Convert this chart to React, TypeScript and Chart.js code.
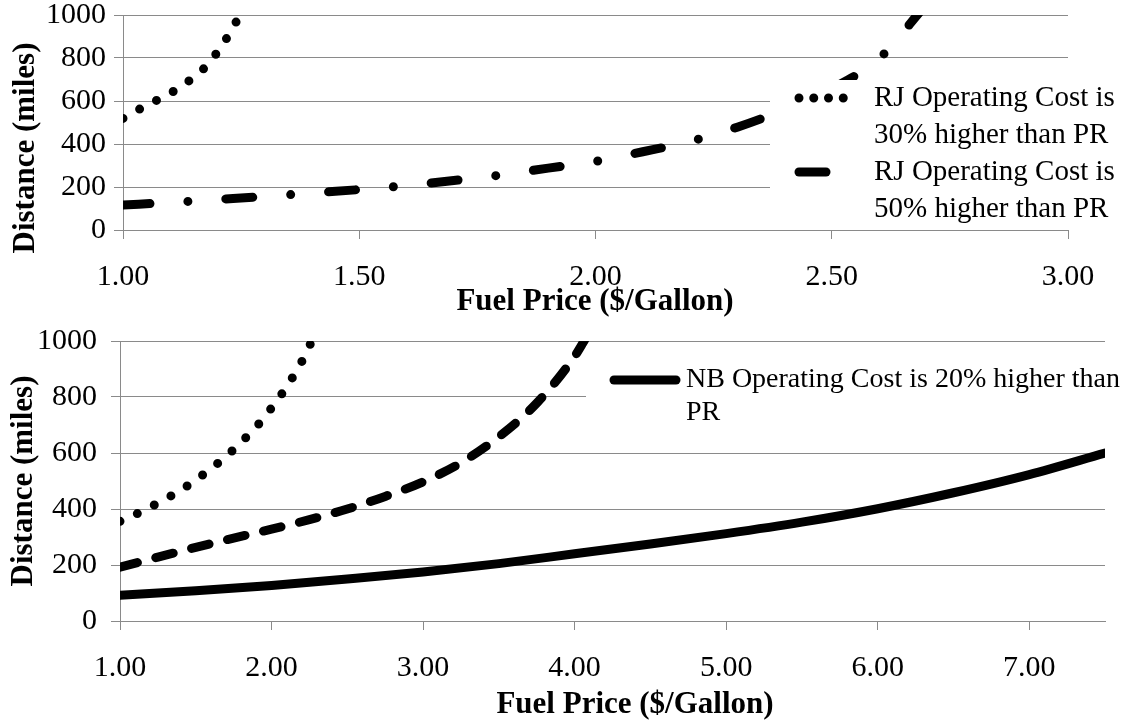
import React, { useEffect, useRef } from "react";
import { Chart, registerables } from "chart.js";

Chart.register(...registerables);

const FONT = "'Liberation Serif', 'Times New Roman', Times, serif";

// ---------- Top chart data (Fuel price 1.00 - 3.00) ----------
const topX30 = [1.0, 1.05, 1.1, 1.15, 1.175, 1.2, 1.225, 1.25];
const topY30 = [519, 580, 636, 711, 760, 828, 912, 1010];

const topX50 = [1.0, 1.1, 1.2, 1.3, 1.4, 1.5, 1.6, 1.7, 1.8, 1.9, 2.0, 2.1, 2.2, 2.3, 2.4, 2.5, 2.6, 2.7];
const topY50 = [116, 128, 142, 156, 172, 188, 207, 230, 256, 288, 319, 364, 412, 478, 560, 658, 797, 1050];

// ---------- Bottom chart data (Fuel price 1.00 - 7.50) ----------
const botX30 = [1.0, 1.1, 1.2, 1.3, 1.4, 1.5, 1.6, 1.7, 1.8, 1.9, 2.0, 2.1, 2.2, 2.3];
const botY30 = [356, 380, 407, 436, 467, 504, 544, 588, 639, 694, 761, 837, 927, 1040];

const botX50 = [1.0, 1.25, 1.5, 1.75, 2.0, 2.25, 2.5, 2.75, 3.0, 3.25, 3.5, 3.75, 4.0, 4.1];
const botY50 = [192, 228, 263, 296, 328, 362, 400, 445, 497, 565, 658, 778, 945, 1035];

const botX20 = [1.0, 1.5, 2.0, 2.5, 3.0, 3.5, 4.0, 4.5, 5.0, 5.5, 6.0, 6.5, 7.0, 7.5];
const botY20 = [92, 108, 127, 150, 175, 205, 240, 275, 312, 353, 401, 458, 523, 600];

// ---------- Axes ----------
const topXRange = [1, 3];
const topXStep = 0.5;
const botXRange = [1, 7.5];
const botXStep = 1;
const yRange = [0, 1000];
const yStep = 200;

const xTitle = "Fuel Price ($/Gallon)";
const yTitle = "Distance (miles)";

const legend30 = ["RJ Operating Cost is", "30% higher than PR"];
const legend50 = ["RJ Operating Cost is", "50% higher than PR"];
const legend20 = ["NB Operating Cost is 20% higher than", "PR"];

const LW = 9;
const DOTS = [0, 19];
const DASH_DOT = [27, 38, 0, 38];
const DASH = [18, 19];
const GRID = "#8a8a8a";

const pts = (xs: number[], ys: number[]) => xs.map((x, i) => ({ x, y: ys[i] }));

type Entry = { dash: number[]; x0: number; x1: number; y: number; tx: number; lh: number; lines: string[] };
type Overlay = {
  box: { x: number; y: number; w: number; h: number };
  entries: Entry[];
  fontSize: number;
  xt: { x: number; y: number };
  yt: { x: number; y: number };
};

const overlayPlugin = (cfg: Overlay) => ({
  id: "overlay",
  afterDatasetsDraw(chart: any) {
    const ctx = chart.ctx;
    ctx.save();
    ctx.fillStyle = "#ffffff";
    ctx.fillRect(cfg.box.x, cfg.box.y, cfg.box.w, cfg.box.h);
    cfg.entries.forEach((e) => {
      ctx.strokeStyle = "#000";
      ctx.lineWidth = LW;
      ctx.lineCap = "round";
      ctx.setLineDash(e.dash);
      ctx.beginPath();
      ctx.moveTo(e.x0, e.y);
      ctx.lineTo(e.x1, e.y);
      ctx.stroke();
      ctx.setLineDash([]);
      ctx.fillStyle = "#000";
      ctx.font = `${cfg.fontSize}px ${FONT}`;
      ctx.textAlign = "left";
      ctx.textBaseline = "middle";
      e.lines.forEach((t, i) => ctx.fillText(t, e.tx, e.y + i * e.lh));
    });
    ctx.restore();
  },
  afterDraw(chart: any) {
    const ctx = chart.ctx;
    ctx.save();
    ctx.fillStyle = "#000";
    ctx.font = `bold 31px ${FONT}`;
    ctx.textAlign = "center";
    ctx.textBaseline = "middle";
    ctx.fillText(xTitle, cfg.xt.x, cfg.xt.y);
    ctx.translate(cfg.yt.x, cfg.yt.y);
    ctx.rotate(-Math.PI / 2);
    ctx.fillText(yTitle, 0, 0);
    ctx.restore();
  },
});

const lineDs = (data: any[], dash: number[]) => ({
  data,
  borderColor: "#000",
  backgroundColor: "#000",
  borderWidth: LW,
  borderCapStyle: "round",
  borderJoinStyle: "round",
  borderDash: dash,
  pointRadius: 0,
  cubicInterpolationMode: "monotone",
  fill: false,
});

const makeOptions = (xr: number[], xstep: number, pad: any, xh: number, yw: number, ypad: number) => ({
  responsive: false,
  animation: false,
  events: [],
  layout: { padding: pad },
  plugins: { legend: { display: false }, tooltip: { enabled: false }, title: { display: false } },
  scales: {
    x: {
      type: "linear",
      min: xr[0],
      max: xr[1],
      ticks: {
        stepSize: xstep,
        includeBounds: false,
        autoSkip: false,
        maxRotation: 0,
        padding: 23,
        color: "#000",
        font: { family: FONT, size: 30, lineHeight: 1 },
        callback: (v: any) => Number(v).toFixed(2),
      },
      grid: { drawOnChartArea: false, drawTicks: true, tickLength: 9, color: GRID, lineWidth: 1 },
      border: { display: true, color: GRID, width: 1 },
      afterFit: (s: any) => {
        s.height = xh;
        s.paddingLeft = 0;
        s.paddingRight = 0;
      },
    },
    y: {
      type: "linear",
      min: yRange[0],
      max: yRange[1],
      ticks: {
        stepSize: yStep,
        padding: ypad,
        color: "#000",
        font: { family: FONT, size: 30, lineHeight: 1 },
        callback: (v: any) => String(v),
      },
      grid: { drawTicks: true, tickLength: 9, color: GRID, lineWidth: 1 },
      border: { display: true, color: GRID, width: 1 },
      afterFit: (s: any) => {
        s.width = yw;
        s.paddingTop = 0;
        s.paddingBottom = 0;
      },
    },
  },
});

export default function App() {
  const topRef = useRef<HTMLCanvasElement>(null);
  const botRef = useRef<HTMLCanvasElement>(null);

  useEffect(() => {
    const top = new Chart(topRef.current as HTMLCanvasElement, {
      type: "line",
      data: {
        datasets: [lineDs(pts(topX30, topY30), DOTS), lineDs(pts(topX50, topY50), DASH_DOT)] as any,
      },
      options: makeOptions(topXRange, topXStep, { top: 15, right: 59, left: 0, bottom: 0 }, 88, 123, 8) as any,
      plugins: [
        overlayPlugin({
          box: { x: 770, y: 80, w: 357, h: 146 },
          fontSize: 29,
          entries: [
            { dash: [0, 14.75], x0: 799, x1: 858, y: 98, tx: 874, lh: 37, lines: legend30 },
            { dash: [27, 34, 0, 200], x0: 799, x1: 860, y: 172, tx: 874, lh: 37, lines: legend50 },
          ],
          xt: { x: 595, y: 302 },
          yt: { x: 26, y: 148 },
        }),
      ],
    });

    const bot = new Chart(botRef.current as HTMLCanvasElement, {
      type: "line",
      data: {
        datasets: [
          lineDs(pts(botX30, botY30), DOTS),
          lineDs(pts(botX50, botY50), DASH),
          lineDs(pts(botX20, botY20), []),
        ] as any,
      },
      options: makeOptions(botXRange, botXStep, { top: 23, right: 22, left: 0, bottom: 0 }, 104, 120, 14) as any,
      plugins: [
        overlayPlugin({
          box: { x: 586, y: 28, w: 541, h: 86 },
          fontSize: 28,
          entries: [{ dash: [], x0: 614, x1: 676, y: 62, tx: 686, lh: 33, lines: legend20 }],
          xt: { x: 635, y: 387 },
          yt: { x: 24, y: 163 },
        }),
      ],
    });

    return () => {
      top.destroy();
      bot.destroy();
    };
  }, []);

  return (
    <div style={{ position: "absolute", left: 0, top: 0, width: 1127, height: 725, background: "#fff" }}>
      <canvas ref={topRef} width={1127} height={318} style={{ position: "absolute", left: 0, top: 0, width: 1127, height: 318 }} />
      <canvas ref={botRef} width={1127} height={407} style={{ position: "absolute", left: 0, top: 318, width: 1127, height: 407 }} />
    </div>
  );
}
